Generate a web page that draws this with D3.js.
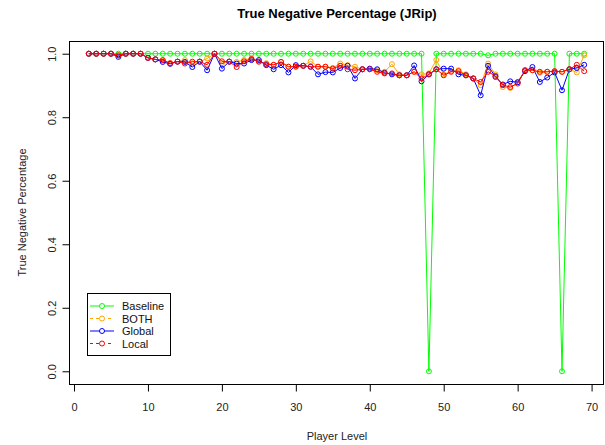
<!DOCTYPE html>
<html>
<head>
<meta charset="utf-8">
<script src="https://cdn.jsdelivr.net/npm/d3@7"></script>
<style>
  body { margin: 0; background: #fff; }
  svg text { font-family: "Liberation Sans", Arial, sans-serif; }
</style>
</head>
<body>
<svg id="chart" width="605" height="445"></svg>
<script>
// data: player levels 2..69
const levels = d3.range(2, 70);
const baseline = [
  1, 1, 1, 1, 1, 1, 1, 1, 1, 1, 1, 1, 1, 1, 1, 1, 1, 1, 1, 1,
  1, 1, 1, 1, 1, 1, 1, 1, 1, 1, 1, 1, 1, 1, 1, 1, 1, 1, 1, 1,
  1, 1, 1, 1, 1, 1, 0, 1, 1, 1, 1, 1, 1, 1, 0.995, 1, 1, 1, 1, 1,
  1, 1, 1, 1, 0, 1, 1, 1
];
const both = [
  1, 1, 1, 1, 0.995, 1, 1, 1, 0.987, 0.982, 0.978, 0.97, 0.975, 0.98, 0.97, 0.975, 0.985, 1, 0.97, 0.975,
  0.974, 0.98, 0.985, 0.975, 0.97, 0.965, 0.974, 0.959, 0.96, 0.962, 0.976, 0.959, 0.959, 0.955, 0.969, 0.964, 0.959, 0.951, 0.951, 0.948,
  0.943, 0.967, 0.935, 0.932, 0.943, 0.935, 0.938, 0.98, 0.935, 0.945, 0.948, 0.935, 0.922, 0.901, 0.969, 0.935, 0.895, 0.892, 0.911, 0.948,
  0.948, 0.94, 0.943, 0.945, 0.943, 0.951, 0.941, 0.995
];
const global = [
  1, 1, 1, 1, 0.99, 1, 1, 1, 0.987, 0.982, 0.974, 0.968, 0.975, 0.974, 0.958, 0.975, 0.948, 1, 0.953, 0.975,
  0.969, 0.969, 0.98, 0.98, 0.964, 0.951, 0.964, 0.941, 0.964, 0.962, 0.959, 0.935, 0.942, 0.941, 0.955, 0.962, 0.922, 0.951, 0.953, 0.951,
  0.94, 0.935, 0.932, 0.932, 0.963, 0.913, 0.935, 0.951, 0.953, 0.953, 0.935, 0.932, 0.922, 0.869, 0.962, 0.927, 0.903, 0.913, 0.91, 0.945,
  0.958, 0.911, 0.925, 0.941, 0.885, 0.951, 0.955, 0.965
];
const local = [
  1, 1, 1, 1, 0.995, 1, 1, 1, 0.987, 0.982, 0.98, 0.97, 0.975, 0.969, 0.975, 0.975, 0.965, 1, 0.976, 0.975,
  0.958, 0.976, 0.983, 0.975, 0.967, 0.965, 0.974, 0.959, 0.959, 0.962, 0.959, 0.959, 0.959, 0.953, 0.962, 0.951, 0.948, 0.951, 0.951, 0.943,
  0.938, 0.938, 0.932, 0.932, 0.943, 0.922, 0.935, 0.951, 0.932, 0.943, 0.945, 0.932, 0.922, 0.911, 0.943, 0.93, 0.901, 0.895, 0.906, 0.948,
  0.948, 0.943, 0.943, 0.945, 0.943, 0.951, 0.965, 0.945
];
const xTicks = [0, 10, 20, 30, 40, 50, 60, 70];
const yTicks = [0, 0.2, 0.4, 0.6, 0.8, 1.0];

const series = [
  { name: "Baseline", values: baseline, color: "#00ff00", dash: null },
  { name: "BOTH", values: both, color: "#ffa500", dash: "3,3" },
  { name: "Global", values: global, color: "#0000ff", dash: null },
  { name: "Local", values: local, color: "#ff0000", dash: "3,3" },
];

const svg = d3.select("#chart");
const box = { left: 69, right: 604, top: 41, bottom: 384 };

// R style 4% padding around the data range
const x = d3.scaleLinear().domain([2 - 67 * 0.04, 69 + 67 * 0.04]).range([box.left, box.right]);
const y = d3.scaleLinear().domain([-0.04, 1.04]).range([box.bottom, box.top]);

svg.append("rect")
  .attr("x", box.left + 0.5).attr("y", box.top + 0.5)
  .attr("width", box.right - box.left - 1).attr("height", box.bottom - box.top)
  .attr("fill", "none").attr("stroke", "#000");

// x axis
const xAxis = svg.append("g")
  .attr("transform", `translate(0,${box.bottom + 0.5})`)
  .call(d3.axisBottom(x).tickValues(xTicks).tickSize(7).tickPadding(12).tickFormat(d3.format("d")));
xAxis.select(".domain").remove();
xAxis.selectAll("text").attr("font-size", 11).attr("fill", "#222")
  .style("font-family", "Liberation Sans, Arial, sans-serif");

// y axis
const yAxis = svg.append("g")
  .attr("transform", `translate(${box.left + 0.5},0)`)
  .call(d3.axisLeft(y).tickValues(yTicks).tickSize(7).tickFormat(d3.format(".1f")));
yAxis.select(".domain").remove();
yAxis.selectAll(".tick text")
  .attr("x", null).attr("dy", null)
  .attr("text-anchor", "middle")
  .attr("transform", "translate(-14,0) rotate(-90)")
  .attr("font-size", 11).attr("fill", "#222")
  .style("font-family", "Liberation Sans, Arial, sans-serif");

// titles
svg.append("text")
  .attr("x", 337).attr("y", 18)
  .attr("text-anchor", "middle")
  .attr("font-size", 13).attr("font-weight", "bold")
  .text("True Negative Percentage (JRip)");

svg.append("text")
  .attr("x", 337).attr("y", 440)
  .attr("text-anchor", "middle")
  .attr("font-size", 11).attr("fill", "#222")
  .text("Player Level");

svg.append("text")
  .attr("transform", `translate(26,${(box.top + box.bottom) / 2}) rotate(-90)`)
  .attr("text-anchor", "middle")
  .attr("font-size", 11).attr("fill", "#222")
  .text("True Negative Percentage");

// lines and points
const line = d3.line().x((d, i) => x(levels[i])).y(d => y(d));

series.forEach(s => {
  const g = svg.append("g");
  g.append("path")
    .datum(s.values)
    .attr("d", line)
    .attr("fill", "none")
    .attr("stroke", s.color)
    .attr("stroke-width", 1);
  g.selectAll("circle")
    .data(s.values)
    .join("circle")
    .attr("cx", (d, i) => x(levels[i]))
    .attr("cy", d => y(d))
    .attr("r", 2.5)
    .attr("fill", "none")
    .attr("stroke", s.color)
    .attr("stroke-width", 1);
});

// legend
const legend = svg.append("g").attr("transform", "translate(87,293)");
legend.append("rect")
  .attr("x", 0.5).attr("y", 0.5)
  .attr("width", 83).attr("height", 62)
  .attr("fill", "#fff").attr("stroke", "#000");

series.forEach((s, i) => {
  const ly = 13 + i * 12.5;
  legend.append("line")
    .attr("x1", 3).attr("x2", 27).attr("y1", ly).attr("y2", ly)
    .attr("stroke", s.color).attr("stroke-dasharray", s.dash);
  legend.append("circle")
    .attr("cx", 15).attr("cy", ly).attr("r", 2.5)
    .attr("fill", "#fff").attr("stroke", s.color);
  legend.append("text")
    .attr("x", 35).attr("y", ly + 4)
    .attr("font-size", 11).attr("fill", "#111")
    .text(s.name);
});
</script>
</body>
</html>
